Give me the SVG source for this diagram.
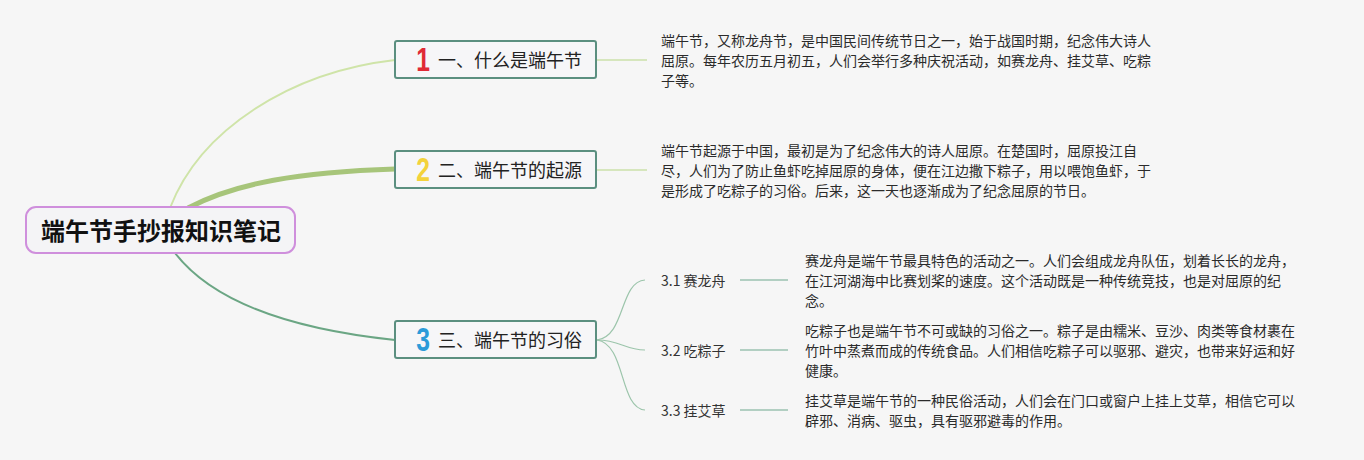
<svg xmlns="http://www.w3.org/2000/svg" width="1364" height="460" viewBox="0 0 1364 460">
<style>
.cjk{font-family:"Noto Sans CJK SC","Liberation Sans",sans-serif;}
.para{font-size:14px;fill:#2b2b2b;}
.title{font-size:18px;fill:#222;}
.box{fill:#f6f6f8;stroke:#5b8f80;stroke-width:2;}
.num{font-family:"Liberation Sans",sans-serif;font-weight:bold;font-size:29px;text-anchor:middle;}
.sub{font-size:14px;fill:#333;}
</style>
<rect width="1364" height="460" fill="#f6f6f6"/>
<g id="connectors" fill="none">
  <path d="M170,208 C200,130 290,72 395,60" stroke="#cfe4a8" stroke-width="2"/>
  <path d="M188,208 C235,183 300,172 395,169" stroke="#a7c57a" stroke-width="5"/>
  <path d="M175,253 C215,305 300,330 395,340" stroke="#6ba684" stroke-width="2"/>
  <path d="M597,60 L647,60" stroke="#d6e6bd" stroke-width="2"/>
  <path d="M597,170 L647,170" stroke="#d6e6bd" stroke-width="2"/>
  <path d="M597,340 C626,336 619,282 645,280" stroke="#9cc5ab" stroke-width="1.2"/>
  <path d="M597,340 C620,340 625,350 645,350" stroke="#9cc5ab" stroke-width="1.2"/>
  <path d="M597,340 C626,344 619,408 645,410" stroke="#9cc5ab" stroke-width="1.2"/>
  <path d="M740,280 L788,280" stroke="#b2cfc2" stroke-width="2"/>
  <path d="M740,350 L788,350" stroke="#b2cfc2" stroke-width="2"/>
  <path d="M740,410 L788,410" stroke="#b2cfc2" stroke-width="2"/>
</g>
<g id="root">
  <rect x="26" y="207" width="269" height="46" rx="10" fill="#f4f4f6" stroke="#cf8fdc" stroke-width="2"/>
  <text class="cjk" x="161" y="240" font-size="24" font-weight="bold" text-anchor="middle" fill="#111">端午节手抄报知识笔记</text>
</g>
<g id="n1">
  <rect class="box" x="395" y="41" width="201" height="37" rx="2"/>
  <text class="num" transform="translate(423,71) scale(0.85,1.12)" fill="#e02a36">1</text>
  <text class="cjk title" x="438" y="67">一、什么是端午节</text>
</g>
<g id="n2">
  <rect class="box" x="395" y="151" width="201" height="37" rx="2"/>
  <text class="num" transform="translate(423,181) scale(0.85,1.12)" fill="#f3d23c">2</text>
  <text class="cjk title" x="438" y="177">二、端午节的起源</text>
</g>
<g id="n3">
  <rect class="box" x="395" y="321" width="201" height="37" rx="2"/>
  <text class="num" transform="translate(423,351) scale(0.85,1.12)" fill="#2b9bd9">3</text>
  <text class="cjk title" x="438" y="347">三、端午节的习俗</text>
</g>
<g id="p1" class="cjk para">
  <text x="661" y="46">端午节，又称龙舟节，是中国民间传统节日之一，始于战国时期，纪念伟大诗人</text>
  <text x="661" y="66">屈原。每年农历五月初五，人们会举行多种庆祝活动，如赛龙舟、挂艾草、吃粽</text>
  <text x="661" y="86">子等。</text>
</g>
<g id="p2" class="cjk para">
  <text x="661" y="156">端午节起源于中国，最初是为了纪念伟大的诗人屈原。在楚国时，屈原投江自</text>
  <text x="661" y="176">尽，人们为了防止鱼虾吃掉屈原的身体，便在江边撒下粽子，用以喂饱鱼虾，于</text>
  <text x="661" y="196">是形成了吃粽子的习俗。后来，这一天也逐渐成为了纪念屈原的节日。</text>
</g>
<g id="s1">
  <text class="cjk sub" x="661" y="286">3.1 赛龙舟</text>
</g>
<g id="s2">
  <text class="cjk sub" x="661" y="356">3.2 吃粽子</text>
</g>
<g id="s3">
  <text class="cjk sub" x="661" y="416">3.3 挂艾草</text>
</g>
<g id="p31" class="cjk para">
  <text x="805" y="266">赛龙舟是端午节最具特色的活动之一。人们会组成龙舟队伍，划着长长的龙舟，</text>
  <text x="805" y="286">在江河湖海中比赛划桨的速度。这个活动既是一种传统竞技，也是对屈原的纪</text>
  <text x="805" y="306">念。</text>
</g>
<g id="p32" class="cjk para">
  <text x="805" y="336">吃粽子也是端午节不可或缺的习俗之一。粽子是由糯米、豆沙、肉类等食材裹在</text>
  <text x="805" y="356">竹叶中蒸煮而成的传统食品。人们相信吃粽子可以驱邪、避灾，也带来好运和好</text>
  <text x="805" y="376">健康。</text>
</g>
<g id="p33" class="cjk para">
  <text x="805" y="406">挂艾草是端午节的一种民俗活动，人们会在门口或窗户上挂上艾草，相信它可以</text>
  <text x="805" y="426">辟邪、消病、驱虫，具有驱邪避毒的作用。</text>
</g>
</svg>
